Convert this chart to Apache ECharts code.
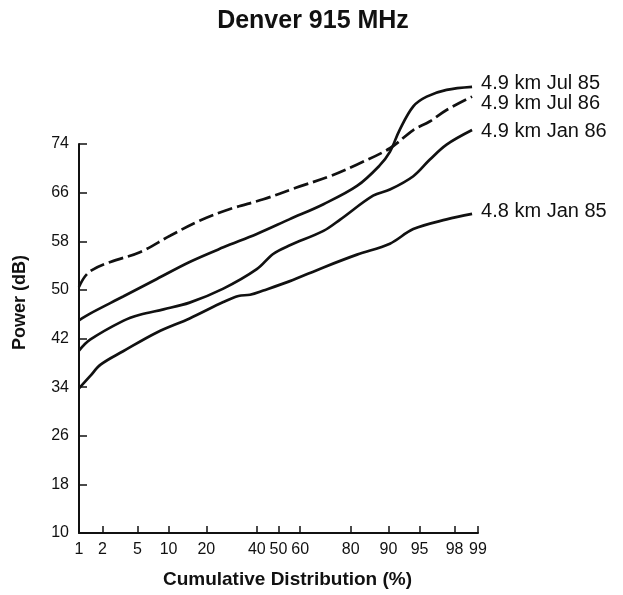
<!DOCTYPE html>
<html>
<head>
<meta charset="utf-8">
<script src="https://cdn.jsdelivr.net/npm/echarts@6/dist/echarts.min.js"></script>
<style>
  html, body { margin: 0; padding: 0; background: #fff; }
  #chart { width: 623px; height: 595px; }
</style>
</head>
<body>
<div id="chart"></div>
<script>
// tick marks of the probability axis (%)
const xTicks = [1, 2, 5, 10, 20, 40, 50, 60, 80, 90, 95, 98, 99];

// 4.9 km Jul 85
const pctJul85 = [1, 1.4, 3.5, 7.8, 15, 26, 40, 55, 70, 82, 88, 90.3, 92.1, 94.2, 95.8, 97.5, 98.8];
const valJul85 = [45, 46.1, 48.9, 51.8, 54.6, 57.0, 59.2, 61.6, 64.1, 67.1, 70.4, 72.7, 76.3, 80.2, 81.8, 82.9, 83.4];

// 4.9 km Jul 86 (dashed)
const pctJul86 = [1, 1.2, 1.5, 2.5, 5.3, 10.3, 18, 28.6, 43, 58, 72.6, 81.9, 90.3, 94.2, 96.1, 97.5, 98.8];
const valJul86 = [50.5, 52.2, 53.3, 54.6, 56.2, 58.9, 61.4, 63.3, 64.9, 66.8, 68.7, 70.6, 73.3, 76.3, 77.7, 79.6, 81.8];

// 4.9 km Jan 86
const pctJan86 = [1, 1.4, 3.5, 5.3, 9, 15, 26, 40, 47.5, 55, 70, 76.5, 86.5, 90.3, 94.2, 96.1, 97.5, 98.8];
const valJan86 = [40, 41.8, 44.9, 45.9, 46.8, 47.9, 50.2, 53.4, 55.9, 57.3, 59.7, 61.6, 65.5, 66.5, 68.7, 71.4, 73.9, 76.3];

// 4.8 km Jan 85
const pctJan85 = [1, 1.4, 1.9, 3.5, 7.8, 15, 26, 32, 37, 43, 55, 70, 82, 90.3, 94.2, 97.5, 98.8];
const valJan85 = [33.8, 35.8, 37.7, 39.9, 43.0, 45.3, 48.0, 49.0, 49.2, 49.9, 51.4, 53.7, 55.8, 57.6, 60.0, 61.6, 62.5];

const seriesNames = ["4.9 km Jul 85", "4.9 km Jul 86", "4.9 km Jan 86", "4.8 km Jan 85"];

// inverse normal cdf (Acklam) - maps % onto the probability-paper axis
function probit(pct) {
  const p = pct / 100;
  const a = [-39.69683028665376, 220.9460984245205, -275.9285104469687, 138.357751867269, -30.66479806614716, 2.506628277459239];
  const b = [-54.47609879822406, 161.5858368580409, -155.6989798598866, 66.80131188771972, -13.28068155288572];
  const c = [-0.007784894002430293, -0.3223964580411365, -2.400758277161838, -2.549732539343734, 4.374664141464968, 2.938163982698783];
  const d = [0.007784695709041462, 0.3224671290700398, 2.445134137142996, 3.754408661907416];
  const pl = 0.02425;
  let q, r;
  if (p < pl) {
    q = Math.sqrt(-2 * Math.log(p));
    return (((((c[0] * q + c[1]) * q + c[2]) * q + c[3]) * q + c[4]) * q + c[5]) /
      ((((d[0] * q + d[1]) * q + d[2]) * q + d[3]) * q + 1);
  }
  if (p > 1 - pl) {
    q = Math.sqrt(-2 * Math.log(1 - p));
    return -(((((c[0] * q + c[1]) * q + c[2]) * q + c[3]) * q + c[4]) * q + c[5]) /
      ((((d[0] * q + d[1]) * q + d[2]) * q + d[3]) * q + 1);
  }
  q = p - 0.5;
  r = q * q;
  return (((((a[0] * r + a[1]) * r + a[2]) * r + a[3]) * r + a[4]) * r + a[5]) * q /
    (((((b[0] * r + b[1]) * r + b[2]) * r + b[3]) * r + b[4]) * r + 1);
}

const pairs = (pcts, vals) => pcts.map((p, i) => [probit(p), vals[i]]);
const tickZ = xTicks.map(probit);
const labelFor = z => {
  let best = 0;
  tickZ.forEach((t, i) => { if (Math.abs(t - z) < Math.abs(tickZ[best] - z)) best = i; });
  return String(xTicks[best]);
};

const font = "Liberation Sans";
const ink = "#111";

function lineSeries(name, data, dashed, offset) {
  return {
    name: name,
    type: "line",
    data: data,
    smooth: 0.35,
    symbol: "none",
    clip: false,
    lineStyle: { color: ink, width: 2.7, type: dashed ? [15, 5] : "solid" },
    endLabel: {
      show: true,
      formatter: "{a}",
      color: ink,
      fontFamily: font,
      fontSize: 20,
      distance: 9,
      offset: offset
    }
  };
}

const chart = echarts.init(document.getElementById("chart"), null, { renderer: "canvas" });

chart.setOption({
  animation: false,
  backgroundColor: "#fff",
  title: {
    text: "Denver 915 MHz",
    left: 308,
    textAlign: "center",
    top: 4,
    textStyle: { fontFamily: font, fontWeight: "bold", fontSize: 25, color: ink }
  },
  grid: { left: 79, right: 145, top: 144, bottom: 62 },
  xAxis: {
    type: "value",
    min: probit(1),
    max: probit(99),
    name: "Cumulative Distribution (%)",
    nameLocation: "middle",
    nameGap: 37,
    nameTextStyle: { fontFamily: font, fontWeight: "bold", fontSize: 19, color: ink, padding: [0, 0, 0, 18] },
    axisLine: { lineStyle: { color: ink, width: 2 } },
    axisTick: { inside: true, length: 7, customValues: tickZ, lineStyle: { color: ink, width: 1.5 } },
    axisLabel: {
      customValues: tickZ,
      formatter: labelFor,
      fontFamily: font,
      fontSize: 16,
      color: ink,
      margin: 9
    },
    splitLine: { show: false }
  },
  yAxis: {
    type: "value",
    min: 10,
    max: 74,
    interval: 8,
    name: "Power (dB)",
    nameLocation: "middle",
    nameGap: 50,
    nameTextStyle: { fontFamily: font, fontWeight: "bold", fontSize: 18, color: ink, padding: [0, 0, 0, 72] },
    axisLine: { show: true, onZero: false, lineStyle: { color: ink, width: 2 } },
    axisTick: { show: true, inside: true, length: 8, lineStyle: { color: ink, width: 1.5 } },
    axisLabel: { fontFamily: font, fontSize: 16, color: ink, margin: 10 },
    splitLine: { show: false }
  },
  series: [
    lineSeries(seriesNames[0], pairs(pctJul85, valJul85), false, [0, -3]),
    lineSeries(seriesNames[1], pairs(pctJul86, valJul86), true, [0, 7]),
    lineSeries(seriesNames[2], pairs(pctJan86, valJan86), false, [0, 1]),
    lineSeries(seriesNames[3], pairs(pctJan85, valJan85), false, [0, -2])
  ]
});
</script>
</body>
</html>
